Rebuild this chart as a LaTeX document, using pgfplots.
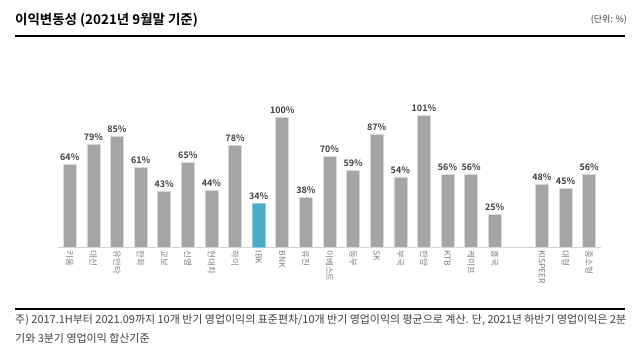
\documentclass[border=0pt]{standalone}
\usepackage{fontspec}
\setmainfont{Noto Sans CJK KR}[BoldFont={Noto Sans CJK KR Bold}]
\usepackage{pgfplots}
\pgfplotsset{compat=1.18}
\definecolor{barg}{HTML}{A5A5A5}
\definecolor{barb}{HTML}{4BACC6}
\definecolor{textc}{HTML}{404040}
\definecolor{labc}{HTML}{7F7F7F}
\begin{document}
\begin{tikzpicture}[x=1bp,y=1bp]
\useasboundingbox (0,0) rectangle (640,357);
\fill[white] (0,0) rectangle (640,357);
\node[anchor=west, inner sep=0pt, font=\bfseries\fontsize{13.5}{16}\selectfont] at (15,337) {이익변동성 (2021년 9월말 기준)};
\node[anchor=east, inner sep=0pt, font=\fontsize{9}{10}\selectfont, text=textc] at (627,337) {(단위: \%)};
\draw[line width=2.5bp] (15,321) -- (625,321);
\draw[line width=2bp] (15,48) -- (625,48);
\node[anchor=west, inner sep=0pt, font=\fontsize{11}{12}\selectfont, text=textc] at (15,37) {주) 2017.1H부터 2021.09까지 10개 반기 영업이익의 표준편차/10개 반기 영업이익의 평균으로 계산. 단, 2021년 하반기 영업이익은 2분};
\node[anchor=west, inner sep=0pt, font=\fontsize{11}{12}\selectfont, text=textc] at (15,19) {기와 3분기 영업이익 합산기준};
\begin{axis}[
  at={(58bp,110bp)}, anchor=south west,
  width=543bp, height=143bp, scale only axis,
  xmin=-0.5, xmax=22.5, ymin=0, ymax=110,
  axis y line=none, axis x line*=bottom,
  x axis line style={draw=gray!35, line width=0.8bp, -},
  xtick={0,1,2,3,4,5,6,7,8,9,10,11,12,13,14,15,16,17,18,20,21,22},
  xticklabels={키움,대신,유안타,한화,교보,신영,현대차,하이,IBK,BNK,유진,이베스트,동부,SK,부국,한양,KTB,케이프,흥국,KISPEER,대형,중소형},
  major tick length=0pt,
  x tick label style={rotate=-90, anchor=west, font=\fontsize{8.5}{9}\selectfont, text=labc},
  ybar, bar width=13bp, bar shift=0pt,
  /pgf/number format/assume math mode=true,
  nodes near coords={\pgfmathprintnumber{\pgfplotspointmeta}\%},
  every node near coord/.append style={font=\bfseries\fontsize{9}{10}\selectfont, text=textc},
  clip=false,
]
\addplot[fill=barg, draw=gray!30, line width=0.6bp] coordinates {
(0,64) (1,79) (2,85) (3,61) (4,43) (5,65) (6,44) (7,78) (9,100) (10,38) (11,70) (12,59) (13,87) (14,54) (15,101) (16,56) (17,56) (18,25) (20,48) (21,45) (22,56)};
\addplot[fill=barb, draw=barb!60, line width=0.6bp] coordinates {(8,34)};
\end{axis}
\end{tikzpicture}
\end{document}
